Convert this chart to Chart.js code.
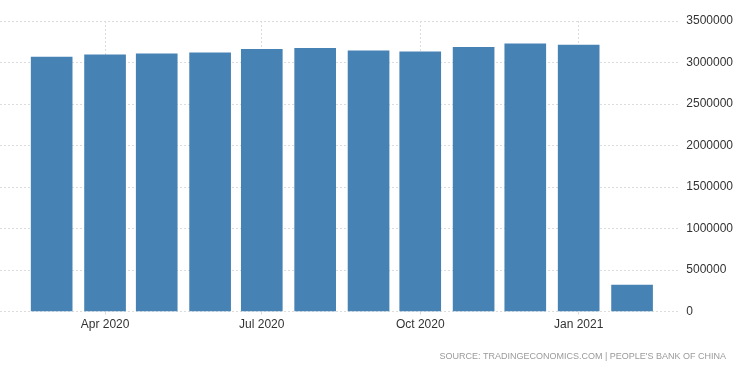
<!DOCTYPE html>
<html>
<head>
<meta charset="utf-8">
<script src="https://cdn.jsdelivr.net/npm/chart.js@4"></script>
<style>
  html, body { margin: 0; padding: 0; background: #fff; }
  #wrap { position: relative; width: 750px; height: 373px; }
  #source {
    position: absolute; right: 24px; top: 351px;
    font: 9px "Liberation Sans", Arial, sans-serif;
    letter-spacing: 0px; color: #9a9a9a; white-space: nowrap;
  }
</style>
</head>
<body>
<div id="wrap">
  <canvas id="chart" width="750" height="373"></canvas>
  <div id="source">SOURCE: TRADINGECONOMICS.COM | PEOPLE'S BANK OF CHINA</div>
</div>
<script>
// months of each bar (first day of month)
const months = ['2020-03', '2020-04', '2020-05', '2020-06', '2020-07', '2020-08',
                '2020-09', '2020-10', '2020-11', '2020-12', '2021-01', '2021-02'];
const values = [3065000, 3093000, 3105000, 3117000, 3158000, 3170000,
                3141000, 3129000, 3182000, 3226000, 3210000, 319000];
const tickMonths = ['2020-04', '2020-07', '2020-10', '2021-01'];
const tickLabels = ['Apr 2020', 'Jul 2020', 'Oct 2020', 'Jan 2021'];
const yTicks = [0, 500000, 1000000, 1500000, 2000000, 2500000, 3000000, 3500000];
const axisStart = '2020-01-31';
const axisEnd = '2021-03-01';

const toDay = s => {
    const p = s.split('-').map(Number);
    return Date.UTC(p[0], p[1] - 1, p[2] || 1) / 86400000;
};

const points = months.map((m, i) => ({ x: toDay(m), y: values[i] }));
const tickDays = tickMonths.map(toDay);

const gridColor = '#dcdcdc';
const textColor = '#333';
const font = { family: '"Liberation Sans", Arial, sans-serif', size: 12 };

new Chart(document.getElementById('chart'), {
    type: 'bar',
    data: {
        datasets: [{
            data: points,
            backgroundColor: '#4682b4',
            borderWidth: 0,
            barThickness: 41
        }]
    },
    options: {
        responsive: false,
        animation: false,
        layout: { padding: { left: 0, right: 11, top: 21, bottom: 38 } },
        plugins: {
            legend: { display: false },
            tooltip: { enabled: false }
        },
        scales: {
            x: {
                type: 'linear',
                offset: false,
                min: toDay(axisStart),
                max: toDay(axisEnd),
                afterBuildTicks: axis => {
                    axis.ticks = tickDays.map(v => ({ value: v }));
                },
                ticks: {
                    autoSkip: false,
                    maxRotation: 0,
                    padding: 3,
                    color: textColor,
                    font: font,
                    callback: v => tickLabels[tickDays.indexOf(v)] || ''
                },
                grid: { color: gridColor, tickLength: 3, offset: false },
                border: { display: false, dash: [2, 2] }
            },
            y: {
                position: 'right',
                min: 0,
                max: 3500000,
                afterBuildTicks: axis => {
                    axis.ticks = yTicks.map(v => ({ value: v }));
                },
                ticks: {
                    padding: 6,
                    color: textColor,
                    font: font,
                    callback: v => String(v)
                },
                grid: { color: gridColor, drawTicks: false },
                border: { display: false, dash: [2, 2] }
            }
        }
    }
});
</script>
</body>
</html>
